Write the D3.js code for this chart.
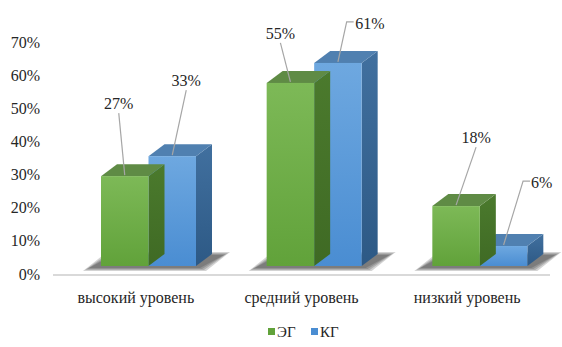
<!DOCTYPE html>
<meta charset="utf-8">
<script src="https://d3js.org/d3.v7.min.js"></script>
<body style="margin:0">
<div id="chart"></div>
<script>

// data
var categories = ["высокий уровень","средний уровень","низкий уровень"]
var seriesNames = ["ЭГ","КГ"]
var egValues = [0.27,0.55,0.18]
var kgValues = [0.33,0.61,0.06]
var yTicks = [0,0.1,0.2,0.3,0.4,0.5,0.6,0.7]
// where the data labels were dragged to, relative to the bar top (px)
var labelDx = [[-6,14],[-10,32],[20,38]]
var labelDy = [[-73,-76],[-50,-40],[-69,-64]]

var w = 562
var h = 347
var depthX = 16
var depthY = -12

var colors = {
	"ЭГ":{front1:"#7db957",front2:"#61a23a",top:"#5f8b45",side:"#4b7a2d",side2:"#3f6a24"},
	"КГ":{front1:"#6ea8e0",front2:"#4a8dd2",top:"#5080b0",side:"#41709f",side2:"#2d5985"}
}

var svg = d3.select("#chart").append("svg").attr("width",w).attr("height",h)
var defs = svg.append("defs")

for(var k in colors){
	var id = k=="ЭГ" ? "eg" : "kg"
	var g1 = defs.append("linearGradient").attr("id","front_"+id).attr("x1",0).attr("y1",0).attr("x2",0).attr("y2",1)
	g1.append("stop").attr("offset","0%").attr("stop-color",colors[k].front1)
	g1.append("stop").attr("offset","100%").attr("stop-color",colors[k].front2)
	var g2 = defs.append("linearGradient").attr("id","side_"+id).attr("x1",0).attr("y1",0).attr("x2",0).attr("y2",1)
	g2.append("stop").attr("offset","0%").attr("stop-color",colors[k].side)
	g2.append("stop").attr("offset","100%").attr("stop-color",colors[k].side2)
}

// scales
var x = d3.scaleBand().domain(categories).range([53,550])
var xInner = d3.scaleBand().domain(seriesNames).range([48,143])
var yAxisScale = d3.scaleLinear().domain([0,0.7]).range([274,42])
var yBar = d3.scaleLinear().domain([0,0.7]).range([266,33])

// y labels
svg.append("g").selectAll("text").data(yTicks).join("text")
	.attr("x",40).attr("y",function(d){return yAxisScale(d)}).attr("dy","0.35em")
	.attr("text-anchor","end").attr("font-family","Liberation Serif").attr("font-size",16).attr("fill","#262626")
	.text(d3.format(".0%"))

// floor line
svg.append("line").attr("x1",53).attr("x2",550).attr("y1",yAxisScale(0)+1).attr("y2",yAxisScale(0)+1)
	.attr("stroke","#d9d9d9").attr("stroke-width",2)

// category labels
svg.append("g").selectAll("text").data(categories).join("text")
	.attr("x",function(d){return x(d)+x.bandwidth()/2}).attr("y",297).attr("dy","0.35em")
	.attr("text-anchor","middle").attr("font-family","Liberation Serif").attr("font-size",16).attr("fill","#262626")
	.text(function(d){return d})

// build bar list
var bars = []
categories.forEach(function(c,i){
	seriesNames.forEach(function(s,j){
		var v = j==0 ? egValues[i] : kgValues[i]
		bars.push({cat:c,ser:s,value:v,i:i,j:j})
	})
})

// soft shadows under each group (stacked layers instead of a blur filter)
var shadowG = svg.append("g")
categories.forEach(function(c){
	var x0 = x(c)+xInner("ЭГ")
	var x1 = x(c)+xInner("КГ")+xInner.bandwidth()
	var b = yBar(0)
	;[6,4,2,0].forEach(function(s){
		shadowG.append("polygon")
			.attr("points",[[x0-12-s,b+2+s/2],[x1+4+s,b+2+s/2],[x1+depthX+12+s,b+depthY+1-s/2],[x0+depthX-4-s,b+depthY+1-s/2]].join(" "))
			.attr("fill","#222").attr("opacity",0.2)
	})
})

// draw bars, back group first so the green one sits in front of the blue side
var barG = svg.append("g")
bars.slice().sort(function(a,b){return b.j-a.j}).forEach(function(d){
	var id = d.ser=="ЭГ" ? "eg" : "kg"
	var x0 = x(d.cat)+xInner(d.ser)
	var x1 = x0+xInner.bandwidth()
	var yt = yBar(d.value)
	var yb = yBar(0)
	var g = barG.append("g")
	g.append("polygon").attr("points",[[x1,yt],[x1+depthX,yt+depthY],[x1+depthX,yb+depthY],[x1,yb]].join(" "))
		.attr("fill","url(#side_"+id+")")
	g.append("polygon").attr("points",[[x0,yt],[x0+depthX,yt+depthY],[x1+depthX,yt+depthY],[x1,yt]].join(" "))
		.attr("fill",colors[d.ser].top)
	g.append("rect").attr("x",x0).attr("y",yt).attr("width",x1-x0).attr("height",yb-yt)
		.attr("fill","url(#front_"+id+")")
})

// data labels with leader lines
var labG = svg.append("g")
bars.forEach(function(d){
	var cx = x(d.cat)+xInner(d.ser)+xInner.bandwidth()/2
	var yt = yBar(d.value)
	var lx = cx+labelDx[d.i][d.j]
	var ly = yt+labelDy[d.i][d.j]
	var label = d3.format(".0%")(d.value)
	labG.append("text").attr("x",lx).attr("y",ly).attr("dy","0.35em")
		.attr("text-anchor","middle").attr("font-family","Liberation Serif").attr("font-size",16).attr("fill","#262626")
		.text(label)
	var tw = label.length*9.5
	var pts
	if(labelDx[d.i][d.j]>25){
		var ex = lx-tw/2-2
		pts = [[ex,ly-1],[ex-7,ly-1],[cx,yt-1]]
	}else{
		pts = [[lx,ly+10],[cx,yt-1]]
	}
	labG.append("polyline").attr("points",pts.join(" ")).attr("fill","none")
		.attr("stroke","#a6a6a6").attr("stroke-width",1.2)
})

// legend
var leg = svg.append("g").attr("transform","translate(268,328)")
var legItems = leg.selectAll("g").data(seriesNames).join("g")
	.attr("transform",function(d,i){return "translate("+(i*43)+",0)"})
legItems.append("rect").attr("width",7).attr("height",7)
	.attr("fill",function(d){return colors[d].front2})
legItems.append("text").attr("x",9).attr("y",4).attr("dy","0.35em")
	.attr("font-family","Liberation Serif").attr("font-size",15).attr("fill","#262626").text(function(d){return d})

</script>
</body>
